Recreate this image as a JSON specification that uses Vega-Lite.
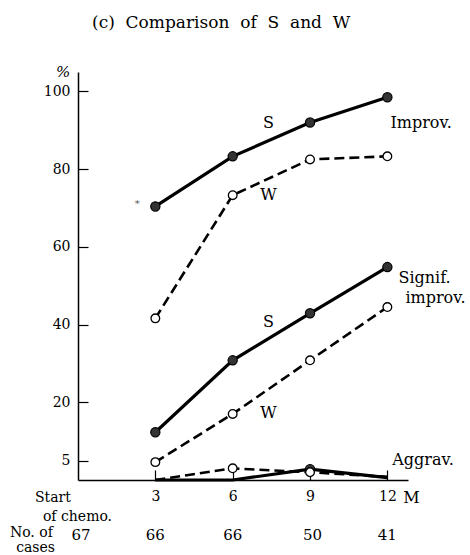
{
  "$schema": "https://vega.github.io/schema/vega-lite/v6.json",
  "width": 330,
  "height": 408,
  "autosize": {"type": "none"},
  "padding": {"left": 78, "top": 72, "right": 62, "bottom": 75},
  "background": "white",
  "config": {
    "view": {"stroke": null},
    "font": "DejaVu Serif",
    "text": {"font": "DejaVu Serif", "color": "black"}
  },
  "title": {
    "text": "(c)\u00a0 Comparison\u00a0 of\u00a0 S\u00a0 and\u00a0 W",
    "anchor": "start",
    "frame": "group",
    "dx": 14,
    "offset": 33,
    "font": "DejaVu Serif",
    "fontSize": 17,
    "fontWeight": "normal",
    "color": "black"
  },
  "datasets": {
    "series": [
      {"month": 3, "value": 70.4, "group": "S", "measure": "Improv"},
      {"month": 6, "value": 83.3, "group": "S", "measure": "Improv"},
      {"month": 9, "value": 92.0, "group": "S", "measure": "Improv"},
      {"month": 12, "value": 98.5, "group": "S", "measure": "Improv"},
      {"month": 3, "value": 41.6, "group": "W", "measure": "Improv"},
      {"month": 6, "value": 73.3, "group": "W", "measure": "Improv"},
      {"month": 9, "value": 82.5, "group": "W", "measure": "Improv"},
      {"month": 12, "value": 83.3, "group": "W", "measure": "Improv"},
      {"month": 3, "value": 12.3, "group": "S", "measure": "Signif"},
      {"month": 6, "value": 30.8, "group": "S", "measure": "Signif"},
      {"month": 9, "value": 42.9, "group": "S", "measure": "Signif"},
      {"month": 12, "value": 54.8, "group": "S", "measure": "Signif"},
      {"month": 3, "value": 4.6, "group": "W", "measure": "Signif"},
      {"month": 6, "value": 17.0, "group": "W", "measure": "Signif"},
      {"month": 9, "value": 30.8, "group": "W", "measure": "Signif"},
      {"month": 12, "value": 44.5, "group": "W", "measure": "Signif"},
      {"month": 3, "value": 0, "group": "S", "measure": "Aggrav"},
      {"month": 6, "value": 0, "group": "S", "measure": "Aggrav"},
      {"month": 9, "value": 2.8, "group": "S", "measure": "Aggrav"},
      {"month": 12, "value": 0.6, "group": "S", "measure": "Aggrav"},
      {"month": 3, "value": 0, "group": "W", "measure": "Aggrav"},
      {"month": 6, "value": 3.0, "group": "W", "measure": "Aggrav"},
      {"month": 9, "value": 2.0, "group": "W", "measure": "Aggrav"},
      {"month": 12, "value": 0.8, "group": "W", "measure": "Aggrav"}
    ],
    "notes": [
      {"m": 7.18, "v": 91.8, "text": "S"},
      {"m": 12.12, "v": 91.8, "text": "Improv."},
      {"m": 7.07, "v": 73.3, "text": "W"},
      {"m": 12.43, "v": 51.9, "text": "Signif."},
      {"m": 12.7, "v": 46.8, "text": "improv."},
      {"m": 7.18, "v": 40.6, "text": "S"},
      {"m": 7.07, "v": 17.2, "text": "W"},
      {"m": 12.19, "v": 5.1, "text": "Aggrav."},
      {"m": 12.62, "v": -4.6, "text": "M"}
    ],
    "axisnotes": [
      {"m": -1.67, "v": -4.6, "text": "Start"},
      {"m": -1.36, "v": -9.5, "text": "of chemo."},
      {"m": -2.64, "v": -13.7, "text": "No. of"},
      {"m": -2.4, "v": -17.4, "text": "cases"}
    ],
    "counts": [
      {"m": 0.12, "v": -14.1, "n": "67"},
      {"m": 3, "v": -14.1, "n": "66"},
      {"m": 6, "v": -14.1, "n": "66"},
      {"m": 9.1, "v": -14.1, "n": "50"},
      {"m": 12, "v": -14.1, "n": "41"}
    ],
    "unit": [{"m": -0.58, "v": 104.9, "text": "%"}],
    "star": [{"m": 2.3, "v": 71.0, "text": "*"}]
  },
  "layer": [
    {
      "data": {"name": "series"},
      "transform": [{"filter": "datum.group == 'S'"}],
      "mark": {"type": "line", "color": "black", "strokeWidth": 3.2},
      "encoding": {
        "x": {
          "field": "month", "type": "quantitative",
          "scale": {"domain": [0, 12.8], "nice": false, "zero": false},
          "axis": {
            "values": [3, 6, 9, 12], "title": null, "grid": false,
            "domainColor": "black", "domainWidth": 1.5,
            "tickColor": "black", "tickWidth": 1.2, "tickSize": -10,
            "labelPadding": 19, "labelFont": "DejaVu Serif", "labelFontSize": 14,
            "labelColor": "black"
          }
        },
        "y": {
          "field": "value", "type": "quantitative",
          "scale": {"domain": [0, 105], "nice": false, "zero": false},
          "axis": {
            "values": [5, 20, 40, 60, 80, 100], "title": null, "grid": false,
            "domainColor": "black", "domainWidth": 1.5,
            "tickColor": "black", "tickWidth": 1.2, "tickSize": -10,
            "labelPadding": 18, "labelFont": "DejaVu Serif", "labelFontSize": 14,
            "labelColor": "black"
          }
        },
        "detail": {"field": "measure", "type": "nominal"}
      }
    },
    {
      "data": {"name": "series"},
      "transform": [{"filter": "datum.group == 'W'"}],
      "mark": {"type": "line", "color": "black", "strokeWidth": 2.6, "strokeDash": [10, 5]},
      "encoding": {
        "x": {"field": "month", "type": "quantitative"},
        "y": {"field": "value", "type": "quantitative"},
        "detail": {"field": "measure", "type": "nominal"}
      }
    },
    {
      "data": {"name": "series"},
      "transform": [{"filter": "datum.group == 'S' && datum.value > 1"}],
      "mark": {"type": "point", "shape": "circle", "filled": true, "fill": "#333333", "stroke": "black", "strokeWidth": 1.2, "size": 85, "opacity": 1},
      "encoding": {
        "x": {"field": "month", "type": "quantitative"},
        "y": {"field": "value", "type": "quantitative"}
      }
    },
    {
      "data": {"name": "series"},
      "transform": [{"filter": "datum.group == 'W' && datum.value > 1"}],
      "mark": {"type": "point", "shape": "circle", "filled": false, "fill": "white", "stroke": "black", "strokeWidth": 1.3, "size": 75, "opacity": 1, "fillOpacity": 1},
      "encoding": {
        "x": {"field": "month", "type": "quantitative"},
        "y": {"field": "value", "type": "quantitative"}
      }
    },
    {
      "data": {"name": "notes"},
      "mark": {"type": "text", "align": "left", "baseline": "middle", "fontSize": 16, "font": "DejaVu Serif", "color": "black"},
      "encoding": {
        "x": {"field": "m", "type": "quantitative"},
        "y": {"field": "v", "type": "quantitative"},
        "text": {"field": "text"}
      }
    },
    {
      "data": {"name": "axisnotes"},
      "mark": {"type": "text", "align": "left", "baseline": "middle", "fontSize": 14, "font": "DejaVu Serif", "color": "black"},
      "encoding": {
        "x": {"field": "m", "type": "quantitative"},
        "y": {"field": "v", "type": "quantitative"},
        "text": {"field": "text"}
      }
    },
    {
      "data": {"name": "counts"},
      "mark": {"type": "text", "align": "center", "baseline": "middle", "fontSize": 15, "font": "DejaVu Serif", "color": "black"},
      "encoding": {
        "x": {"field": "m", "type": "quantitative"},
        "y": {"field": "v", "type": "quantitative"},
        "text": {"field": "n"}
      }
    },
    {
      "data": {"name": "unit"},
      "mark": {"type": "text", "align": "center", "baseline": "middle", "fontSize": 15, "fontStyle": "italic", "font": "DejaVu Serif", "color": "black"},
      "encoding": {
        "x": {"field": "m", "type": "quantitative"},
        "y": {"field": "v", "type": "quantitative"},
        "text": {"field": "text"}
      }
    },
    {
      "data": {"name": "star"},
      "mark": {"type": "text", "align": "center", "baseline": "middle", "fontSize": 10, "font": "DejaVu Serif", "color": "#555555"},
      "encoding": {
        "x": {"field": "m", "type": "quantitative"},
        "y": {"field": "v", "type": "quantitative"},
        "text": {"field": "text"}
      }
    }
  ]
}
